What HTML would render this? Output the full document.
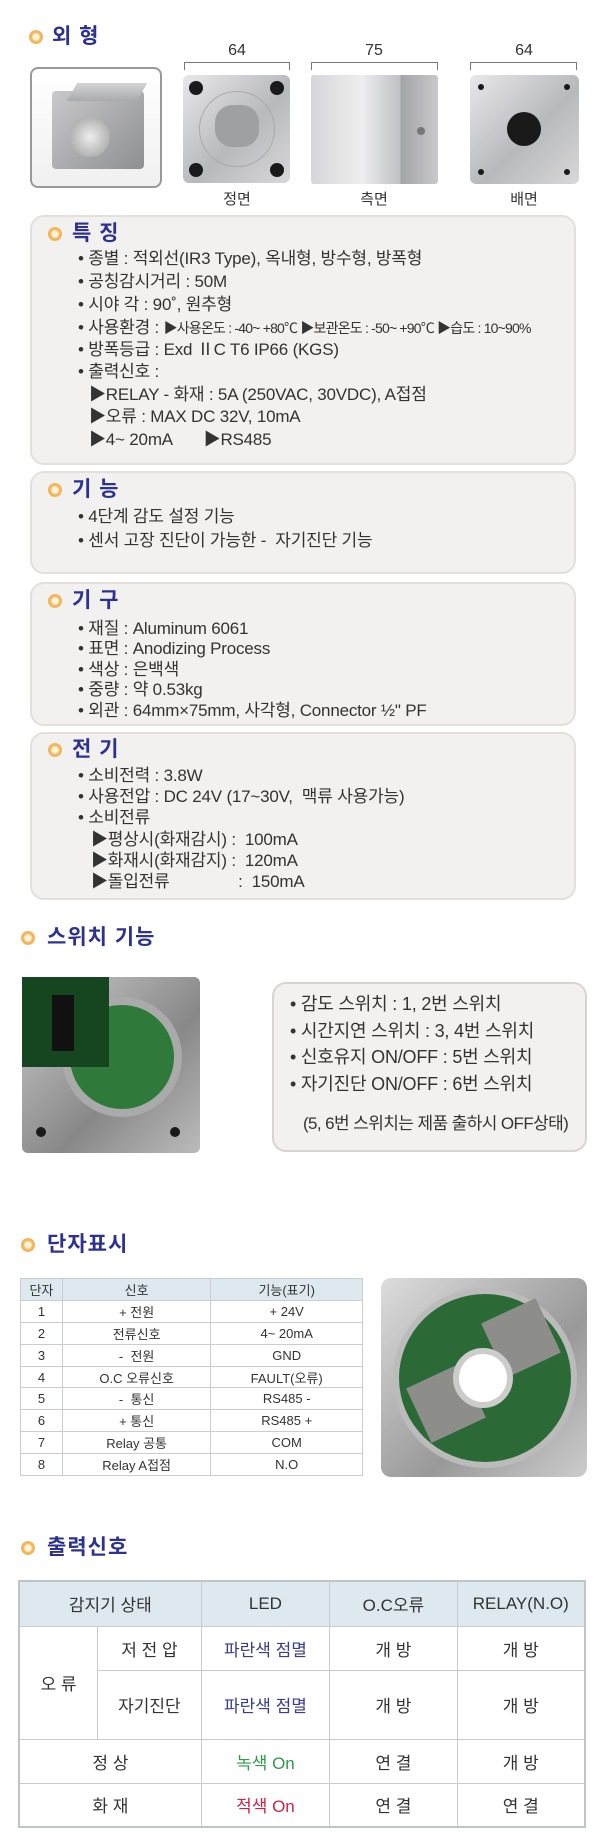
<!DOCTYPE html>
<html><head><meta charset="utf-8">
<style>
*{margin:0;padding:0;box-sizing:border-box}
body{width:600px;height:1848px;background:#fff;position:relative;font-family:"Liberation Sans","Noto Sans CJK KR",sans-serif;color:#333;overflow:hidden}
.a{position:absolute}
.ic{position:absolute;width:14px;height:14px;border-radius:50%;background:radial-gradient(circle,#fff3d8 0 30%,#f3b860 45%,#f0b060 100%)}
.tt{position:absolute;font-size:21px;font-weight:bold;color:#2d3192;letter-spacing:1px;line-height:24px;white-space:nowrap}
.pn{position:absolute;left:30px;width:546px;background:#f3f1ef;border:2px solid #e3e0dc;border-radius:14px}
.ln{position:absolute;font-size:17px;letter-spacing:-0.2px;white-space:nowrap;line-height:20px;color:#333}
.sm{font-size:14px;letter-spacing:-0.8px}
.cap{position:absolute;font-size:15px;text-align:center;width:100px;white-space:nowrap}
.dim{position:absolute;height:8px;border-left:1px solid #777;border-right:1px solid #777;border-top:1px solid #777;top:62px}
table{border-collapse:collapse;position:absolute}
.t1 td{border:1px solid #c9cdd0;font-size:13px;text-align:center;height:21.9px;padding:0;color:#333}
.t2 td{border:1px solid #c8cccf;font-size:17px;text-align:center;padding:0;color:#333}
.hd td{background:#dde9ef}
.metal{background:linear-gradient(135deg,#e8e8ea,#b8b9bd 55%,#d8d8da);border-radius:6px}
.hole{position:absolute;border-radius:50%;background:#1a1a1a}
</style></head><body>

<div class="ic" style="left:29px;top:30px"></div>
<div class="tt" style="left:52px;top:25px">외 형</div>

<div class="dim" style="left:184px;width:106px"></div>
<div class="dim" style="left:311px;width:127px"></div>
<div class="dim" style="left:470px;width:107px"></div>
<div class="cap" style="left:187px;top:42px;font-size:16px">64</div>
<div class="cap" style="left:324px;top:42px;font-size:16px">75</div>
<div class="cap" style="left:474px;top:42px;font-size:16px">64</div>

<div class="a" style="left:30px;top:67px;width:132px;height:121px;border:2px solid #999;border-radius:8px;background:linear-gradient(#fff,#f0f0f0)">
 <div class="a" style="left:20px;top:22px;width:92px;height:78px;background:linear-gradient(135deg,#c9c9cc,#8e8f93);border-radius:4px"></div>
 <div class="a" style="left:40px;top:14px;width:70px;height:18px;background:linear-gradient(#d4d4d6,#a9aaae);transform:skewX(-30deg)"></div>
 <div class="a" style="left:38px;top:48px;width:40px;height:40px;border-radius:50%;background:radial-gradient(#eee,#999)"></div>
</div>

<div class="a metal" style="left:183px;top:75px;width:107px;height:108px">
 <div class="hole" style="left:6px;top:6px;width:14px;height:14px"></div>
 <div class="hole" style="left:87px;top:6px;width:14px;height:14px"></div>
 <div class="hole" style="left:6px;top:88px;width:14px;height:14px"></div>
 <div class="hole" style="left:87px;top:88px;width:14px;height:14px"></div>
 <div class="a" style="left:16px;top:16px;width:76px;height:76px;border-radius:50%;border:1px solid #aaa"></div>
 <div class="a" style="left:32px;top:30px;width:44px;height:42px;border-radius:40%;background:#9fa0a4"></div>
</div>
<div class="a metal" style="left:311px;top:75px;width:127px;height:109px;border-radius:3px;background:linear-gradient(90deg,#d6d6d8,#eeeeef 40%,#c0c1c4 70%,#a3a4a8 71%,#c9c9cb)">
 <div class="hole" style="left:106px;top:52px;width:8px;height:8px;background:#777"></div>
</div>
<div class="a metal" style="left:470px;top:75px;width:109px;height:109px">
 <div class="hole" style="left:8px;top:9px;width:6px;height:6px"></div>
 <div class="hole" style="left:94px;top:9px;width:6px;height:6px"></div>
 <div class="hole" style="left:8px;top:94px;width:6px;height:6px"></div>
 <div class="hole" style="left:94px;top:94px;width:6px;height:6px"></div>
 <div class="hole" style="left:37px;top:37px;width:34px;height:34px"></div>
</div>
<div class="cap" style="left:187px;top:188px">정면</div>
<div class="cap" style="left:324px;top:188px">측면</div>
<div class="cap" style="left:474px;top:188px">배면</div>

<!-- 특징 -->
<div class="pn" style="top:215px;height:250px"></div>
<div class="ic" style="left:48px;top:227px"></div>
<div class="tt" style="left:72px;top:222px">특 징</div>
<div class="ln" style="left:78px;top:249px">• 종별 : 적외선(IR3 Type), 옥내형, 방수형, 방폭형</div>
<div class="ln" style="left:78px;top:272px">• 공칭감시거리 : 50M</div>
<div class="ln" style="left:78px;top:295px">• 시야 각 : 90˚, 원추형</div>
<div class="ln" style="left:78px;top:318px">• 사용환경 : <span class="sm">▶사용온도 : -40~ +80℃ ▶보관온도 : -50~ +90℃ ▶습도 : 10~90%</span></div>
<div class="ln" style="left:78px;top:340px">• 방폭등급 : Exd ⅡC T6 IP66 (KGS)</div>
<div class="ln" style="left:78px;top:362px">• 출력신호 :</div>
<div class="ln" style="left:89px;top:385px">▶RELAY - 화재 : 5A (250VAC, 30VDC), A접점</div>
<div class="ln" style="left:89px;top:407px">▶오류 : MAX DC 32V, 10mA</div>
<div class="ln" style="left:89px;top:430px">▶4~ 20mA &nbsp;&nbsp;&nbsp;&nbsp;&nbsp;&nbsp;▶RS485</div>

<!-- 기능 -->
<div class="pn" style="top:471px;height:103px"></div>
<div class="ic" style="left:48px;top:483px"></div>
<div class="tt" style="left:72px;top:478px">기 능</div>
<div class="ln" style="left:78px;top:507px">• 4단계 감도 설정 기능</div>
<div class="ln" style="left:78px;top:531px">• 센서 고장 진단이 가능한 - &nbsp;자기진단 기능</div>

<!-- 기구 -->
<div class="pn" style="top:582px;height:144px"></div>
<div class="ic" style="left:48px;top:594px"></div>
<div class="tt" style="left:72px;top:589px">기 구</div>
<div class="ln" style="left:78px;top:619px">• 재질 : Aluminum 6061</div>
<div class="ln" style="left:78px;top:639px">• 표면 : Anodizing Process</div>
<div class="ln" style="left:78px;top:660px">• 색상 : 은백색</div>
<div class="ln" style="left:78px;top:680px">• 중량 : 약 0.53kg</div>
<div class="ln" style="left:78px;top:701px">• 외관 : 64mm×75mm, 사각형, Connector ½" PF</div>

<!-- 전기 -->
<div class="pn" style="top:732px;height:168px"></div>
<div class="ic" style="left:48px;top:743px"></div>
<div class="tt" style="left:72px;top:738px">전 기</div>
<div class="ln" style="left:78px;top:766px">• 소비전력 : 3.8W</div>
<div class="ln" style="left:78px;top:787px">• 사용전압 : DC 24V (17~30V, &nbsp;맥류 사용가능)</div>
<div class="ln" style="left:78px;top:808px">• 소비전류</div>
<div class="ln" style="left:91px;top:830px">▶평상시(화재감시) : &nbsp;100mA</div>
<div class="ln" style="left:91px;top:851px">▶화재시(화재감지) : &nbsp;120mA</div>
<div class="ln" style="left:91px;top:872px">▶돌입전류 <span style="display:inline-block;width:64px"></span>: &nbsp;150mA</div>

<!-- 스위치 기능 -->
<div class="ic" style="left:21px;top:931px"></div>
<div class="tt" style="left:47px;top:926px">스위치 기능</div>
<div class="a metal" style="left:22px;top:977px;width:178px;height:176px;background:linear-gradient(135deg,#ccc,#888 60%,#bbb)">
 <div class="a" style="left:40px;top:20px;width:120px;height:120px;border-radius:50%;background:#2f7a3a;border:8px solid #aaa"></div>
 <div class="a" style="left:0;top:0;width:87px;height:90px;background:#16461f"></div>
 <div class="a" style="left:30px;top:18px;width:22px;height:56px;background:#111"></div>
 <div class="hole" style="left:14px;top:150px;width:10px;height:10px"></div>
 <div class="hole" style="left:148px;top:150px;width:10px;height:10px"></div>
</div>
<div class="a" style="left:272px;top:982px;width:315px;height:170px;background:#f3f1ef;border:2px solid #d8d5d1;border-radius:14px"></div>
<div class="ln" style="left:290px;top:994px;font-size:18px">• 감도 스위치 : 1, 2번 스위치</div>
<div class="ln" style="left:290px;top:1021px;font-size:18px">• 시간지연 스위치 : 3, 4번 스위치</div>
<div class="ln" style="left:290px;top:1047px;font-size:18px">• 신호유지 ON/OFF : 5번 스위치</div>
<div class="ln" style="left:290px;top:1074px;font-size:18px">• 자기진단 ON/OFF : 6번 스위치</div>
<div class="ln" style="left:303px;top:1114px;font-size:17px;letter-spacing:-0.6px">(5, 6번 스위치는 제품 출하시 OFF상태)</div>

<!-- 단자표시 -->
<div class="ic" style="left:21px;top:1238px"></div>
<div class="tt" style="left:47px;top:1233px">단자표시</div>
<table class="t1" style="left:20px;top:1278px;width:343px">
<colgroup><col style="width:42px"><col style="width:149px"><col style="width:152px"></colgroup>
<tr class="hd"><td>단자</td><td>신호</td><td>기능(표기)</td></tr>
<tr><td>1</td><td>+ 전원</td><td>+ 24V</td></tr>
<tr><td>2</td><td>전류신호</td><td>4~ 20mA</td></tr>
<tr><td>3</td><td>- &nbsp;전원</td><td>GND</td></tr>
<tr><td>4</td><td>O.C 오류신호</td><td>FAULT(오류)</td></tr>
<tr><td>5</td><td>- &nbsp;통신</td><td>RS485 -</td></tr>
<tr><td>6</td><td>+ 통신</td><td>RS485 +</td></tr>
<tr><td>7</td><td>Relay 공통</td><td>COM</td></tr>
<tr><td>8</td><td>Relay A접점</td><td>N.O</td></tr>
</table>
<div class="a metal" style="left:381px;top:1278px;width:206px;height:199px;border-radius:10px;background:linear-gradient(135deg,#ddd,#999 60%,#ccc)">
 <div class="a" style="left:12px;top:10px;width:184px;height:180px;border-radius:50%;background:#2b6a36;border:6px solid #bbb"></div>
 <div class="a" style="left:35px;top:95px;width:60px;height:60px;background:#8d8d8a;transform:rotate(-25deg)"></div>
 <div class="a" style="left:110px;top:30px;width:60px;height:60px;background:#8d8d8a;transform:rotate(-25deg)"></div>
 <div class="a" style="left:72px;top:70px;width:60px;height:60px;border-radius:50%;background:#fff;border:6px solid #ccc"></div>
</div>

<!-- 출력신호 -->
<div class="ic" style="left:21px;top:1541px"></div>
<div class="tt" style="left:47px;top:1536px">출력신호</div>
<table class="t2" style="left:18px;top:1580px;width:568px;border:2px solid #c0c4c7">
<colgroup><col style="width:79px"><col style="width:104px"><col style="width:129px"><col style="width:128px"><col style="width:128px"></colgroup>
<tr class="hd" style="height:45px"><td colspan="2">감지기 상태</td><td>LED</td><td>O.C오류</td><td>RELAY(N.O)</td></tr>
<tr style="height:44px"><td rowspan="2">오 류</td><td>저 전 압</td><td style="color:#3a3c8e">파란색 점멸</td><td>개 방</td><td>개 방</td></tr>
<tr style="height:69px"><td>자기진단</td><td style="color:#3a3c8e">파란색 점멸</td><td>개 방</td><td>개 방</td></tr>
<tr style="height:44px"><td colspan="2">정 상</td><td style="color:#2e9a4a">녹색 On</td><td>연 결</td><td>개 방</td></tr>
<tr style="height:44px"><td colspan="2">화 재</td><td style="color:#cc2244">적색 On</td><td>연 결</td><td>연 결</td></tr>
</table>
</body></html>
